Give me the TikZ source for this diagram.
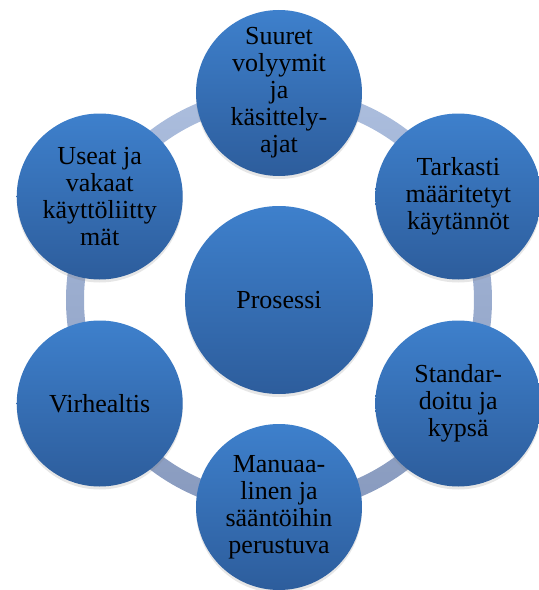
\documentclass[tikz,border=0pt]{standalone}
\usepackage{fontspec}
\setmainfont{Liberation Serif}
\usetikzlibrary{positioning, shadows}
\definecolor{balltop}{RGB}{62,128,204}
\definecolor{ballbot}{RGB}{45,93,156}
\definecolor{ringtop}{RGB}{172,190,222}
\definecolor{ringbot}{RGB}{136,154,190}
\tikzset{
    ball/.style={circle, minimum size=166pt, inner sep=0pt, align=center, top color=balltop, bottom color=ballbot, drop shadow={opacity=0.2, shadow xshift=0pt, shadow yshift=-3pt}, font=\fontsize{26}{27}\selectfont},
    hub/.style={ball, minimum size=188pt},
    ring/.style={top color=ringtop, bottom color=ringbot, even odd rule},
}

\begin{document}
\begin{tikzpicture}
    \useasboundingbox (-279pt,-290pt) rectangle (260pt,300pt);
    \coordinate (c) at (0,0);
    % ring behind the outer circles
    \shade[ring] (c) circle (213pt) (c) circle (195pt);
    \node[hub] (proc) at (c) {Prosessi};
    \node[ball] (vol) at (90:207pt) {Suuret\\volyymit\\ja\\käsittely-\\ajat};
    \node[ball] (tark) at (30:207pt) {Tarkasti\\määritetyt\\käytännöt};
    \node[ball] (std) at (-30:207pt) {Standar-\\doitu ja\\kypsä};
    \node[ball] (man) at (-90:207pt) {Manuaa-\\linen ja\\sääntöihin\\perustuva};
    \node[ball] (virhe) at (210:207pt) {Virhealtis};
    \node[ball] (ui) at (150:207pt) {Useat ja\\vakaat\\käyttöliitty\\mät};
\end{tikzpicture}
\end{document}
